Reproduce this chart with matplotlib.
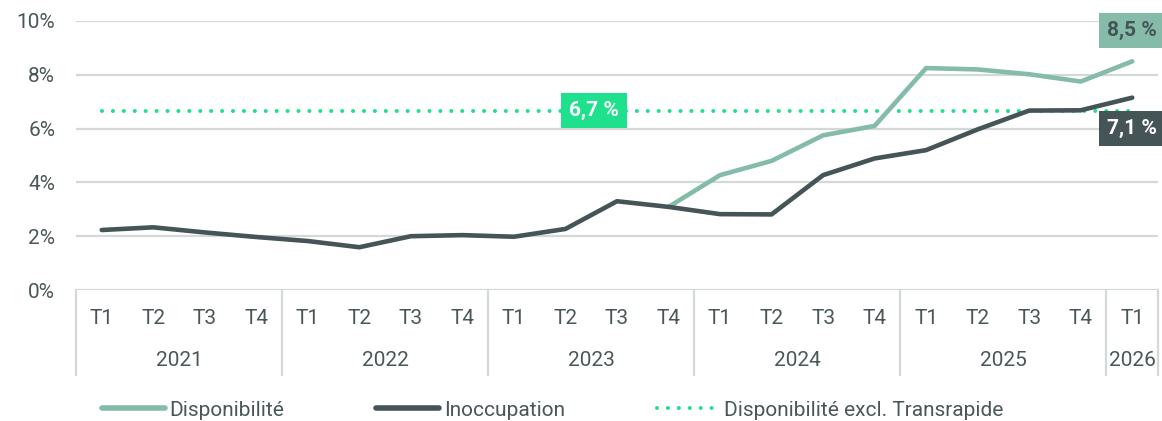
import matplotlib.pyplot as plt
from matplotlib.lines import Line2D
from matplotlib.transforms import blended_transform_factory
import numpy as np

# data
years = ["2021", "2022", "2023", "2024", "2025", "2026"]
quarters_per_year = [4, 4, 4, 4, 4, 1]
quarter_labels = ["T1", "T2", "T3", "T4"] * 5 + ["T1"]

inoccupation = [2.23, 2.33, 2.14, 1.97, 1.82, 1.59, 2.00, 2.04, 1.98, 2.27, 3.30,
                3.09, 2.82, 2.81, 4.27, 4.89, 5.20, 5.97, 6.67, 6.68, 7.15]
disponibilite = [2.23, 2.33, 2.14, 1.97, 1.82, 1.59, 2.00, 2.04, 1.98, 2.27, 3.30,
                 3.09, 4.27, 4.80, 5.75, 6.10, 8.25, 8.20, 8.02, 7.75, 8.50]
dispo_excl = 6.67

LIGHT = "#84bba9"
DARK = "#455456"
GREEN = "#1fe08c"
GRID = "#d3d8d8"
TXT = "#4a5758"
FS = 15

plt.rcParams['font.family'] = ['Roboto', 'DejaVu Sans']

fig = plt.figure(figsize=(11.62, 4.21), dpi=100)
ax = fig.add_axes([76 / 1162, 1 - 290 / 421, (1158 - 76) / 1162, 269 / 421])

n = len(quarter_labels)
x = np.arange(n)

ax.plot(x, [dispo_excl] * n, color=GREEN, lw=2.9, linestyle=(0, (0.01, 2.7)),
        dash_capstyle='round', zorder=3)
ax.plot(x[11:], disponibilite[11:], color=LIGHT, lw=3.3, solid_capstyle='round',
        solid_joinstyle='round', zorder=4)
ax.plot(x, inoccupation, color=DARK, lw=3.3, solid_capstyle='round',
        solid_joinstyle='round', zorder=5)

ax.set_xlim(-0.5, n - 0.5)
ax.set_ylim(0, 10)
ax.set_yticks(range(0, 11, 2))
ax.set_yticklabels([f"{v}%" for v in range(0, 11, 2)])
ax.yaxis.grid(True, color=GRID, lw=1.6)
ax.set_axisbelow(True)
for s in ax.spines.values():
    s.set_visible(False)
ax.tick_params(axis='y', length=0, pad=15, labelsize=FS, labelcolor=TXT)
ax.set_xticks(x)
ax.set_xticklabels(quarter_labels)
ax.tick_params(axis='x', length=0, pad=14, labelsize=FS, labelcolor=TXT)

# year groups and separators
trans = blended_transform_factory(ax.transData, ax.transAxes)
bounds = np.concatenate([[0], np.cumsum(quarters_per_year)]) - 0.5
for b in bounds:
    ax.plot([b, b], [0, -0.315], transform=trans, color=GRID, lw=1.6, clip_on=False)
for i, yr in enumerate(years):
    ax.text((bounds[i] + bounds[i + 1]) / 2, -0.262, yr, transform=trans,
            ha='center', va='center', fontsize=FS, color=TXT)

# value labels
ax.annotate("8,5 %", (x[-1], disponibilite[-1]), xytext=(0, 22), textcoords='offset points',
            ha='center', va='center', fontsize=FS, fontweight='bold', color=DARK,
            bbox=dict(boxstyle='square,pad=0.38', fc=LIGHT, ec='none'), zorder=6)
ax.annotate("7,1 %", (x[-1], inoccupation[-1]), xytext=(0, -22), textcoords='offset points',
            ha='center', va='center', fontsize=FS, fontweight='bold', color='white',
            bbox=dict(boxstyle='square,pad=0.38', fc=DARK, ec='none'), zorder=6)
ax.text(9.55, dispo_excl, "6,7 %", ha='center', va='center', fontsize=FS,
        fontweight='bold', color='white',
        bbox=dict(boxstyle='square,pad=0.38', fc=GREEN, ec='none'), zorder=6)

# legend
handles = [
    Line2D([], [], color=LIGHT, lw=4, solid_capstyle='round'),
    Line2D([], [], color=DARK, lw=4, solid_capstyle='round'),
    Line2D([], [], color=GREEN, lw=2.9, linestyle=(0, (0.01, 2.7)), dash_capstyle='round'),
]
fig.legend(handles, ["Disponibilité", "Inoccupation", "Disponibilité excl. Transrapide"],
           loc='center left', bbox_to_anchor=(102 / 1162, 1 - 410 / 421), ncol=3,
           frameon=False, fontsize=FS, labelcolor=TXT, handlelength=3.0,
           handletextpad=0.25, columnspacing=4.4, borderaxespad=0, borderpad=0)

fig.savefig("out.png", dpi=100)
